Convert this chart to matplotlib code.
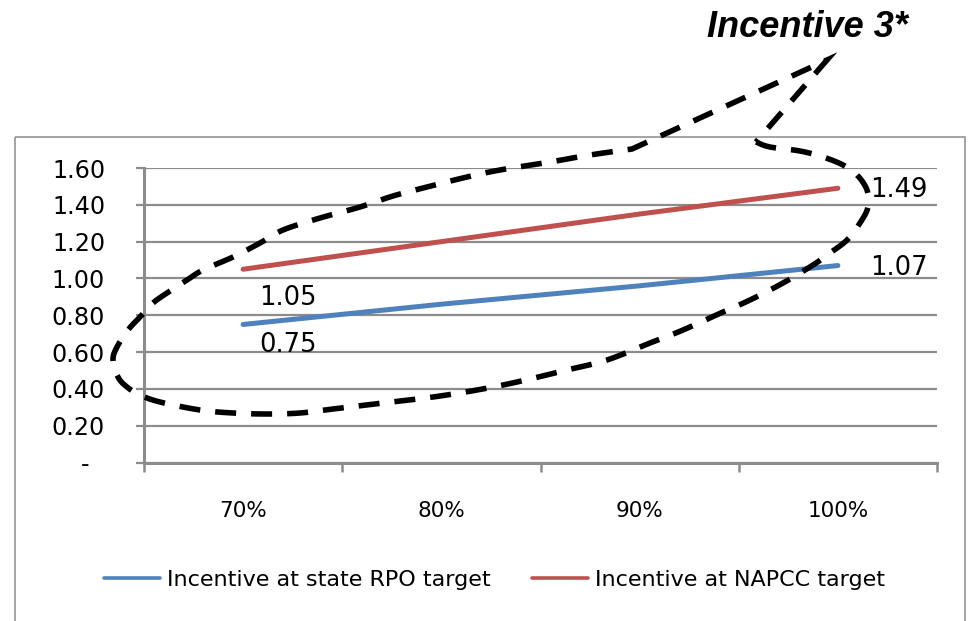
import numpy as np
import matplotlib
matplotlib.use("Agg")
import matplotlib.pyplot as plt
from matplotlib.patches import Rectangle
from matplotlib.collections import LineCollection
from matplotlib.transforms import Affine2D

# ---- data -------------------------------------------------------------
categories = ["70%", "80%", "90%", "100%"]
rpo_target = [0.75, 0.86, 0.96, 1.07]
napcc_target = [1.05, 1.20, 1.35, 1.49]
series_names = ["Incentive at state RPO target", "Incentive at NAPCC target"]
y_ticks = [0.0, 0.2, 0.4, 0.6, 0.8, 1.0, 1.2, 1.4, 1.6]
y_tick_labels = ["-  ", "0.20", "0.40", "0.60", "0.80", "1.00", "1.20", "1.40", "1.60"]
callout_title = "Incentive 3*"

# ---- style ------------------------------------------------------------
BLUE = "#4F81BD"
RED = "#C0504D"
GRID = "#8C8C8C"
plt.rcParams["font.family"] = ["DejaVu Sans"]

W, H = 969, 621
fig = plt.figure(figsize=(W / 100, H / 100), dpi=100)
fig.patch.set_facecolor("white")
# pixel coordinates (origin top-left) for the free-drawn decorations
px = Affine2D().scale(1 / W, -1 / H).translate(0, 1) + fig.transFigure

ax = fig.add_axes([144 / W, 1 - 462.5 / H, (937 - 144) / W, (462.5 - 168) / H])
ax.patch.set_visible(False)

x = np.arange(len(categories))
ax.plot(x, rpo_target, color=BLUE, lw=3.6, solid_capstyle="round",
        label=series_names[0], zorder=3)
ax.plot(x, napcc_target, color=RED, lw=3.6, solid_capstyle="round",
        label=series_names[1], zorder=3)

ax.set_xlim(-0.5, len(categories) - 0.5)
ax.set_ylim(0, 1.6)
ax.set_yticks(y_ticks)
ax.set_yticklabels(y_tick_labels)
ax.yaxis.grid(True, color=GRID, lw=1.6)
ax.set_axisbelow(True)

ax.set_xticks(x)
ax.set_xticklabels(categories)
ax.set_xticks(np.arange(-0.5, len(categories)), minor=True)
ax.tick_params(axis="x", which="major", length=0, pad=28, labelsize=15.5)
ax.tick_params(axis="x", which="minor", length=6.5, width=1.8, color=GRID,
               direction="out")
ax.tick_params(axis="y", length=6, width=1.6, color=GRID, pad=22,
               labelsize=17.2)

for s in ("top", "right"):
    ax.spines[s].set_visible(False)
for s in ("left", "bottom"):
    ax.spines[s].set_color(GRID)
    ax.spines[s].set_linewidth(2.2)

# ---- value labels -----------------------------------------------------
label_offsets = {
    (0, 0): (32, -14.6), (0, 3): (44, -1.5),
    (1, 0): (32, -20.5), (1, 3): (44, -1.0),
}
for si, series in enumerate([rpo_target, napcc_target]):
    for i in (0, len(series) - 1):
        ax.annotate(f"{series[i]:.2f}", xy=(x[i], series[i]),
                    xytext=label_offsets[(si, i)], textcoords="offset points",
                    ha="center", va="center", fontsize=18.5, zorder=4)

# ---- legend -----------------------------------------------------------
leg = fig.legend(loc="center", bbox_to_anchor=(494.5 / W, 1 - 580 / H),
                 ncol=2, frameon=False, fontsize=16, handlelength=2.5,
                 handletextpad=0.3, columnspacing=1.9)
for ln in leg.get_lines():
    ln.set_linewidth(2.6)

# ---- outer chart frame ------------------------------------------------
fig.add_artist(Rectangle((15.5, 136.5), 950, 600, transform=px, fill=False,
                         edgecolor=GRID, lw=1.1, clip_on=False, zorder=-1))


# ---- dashed callout bubble -------------------------------------------
def catmull_rom(pts, n=8):
    pts = np.asarray(pts, float)
    p = np.vstack([pts[0], pts, pts[-1]])
    out = []
    t = np.linspace(0, 1, n, endpoint=False)[:, None]
    for i in range(1, len(p) - 2):
        p0, p1, p2, p3 = p[i - 1], p[i], p[i + 1], p[i + 2]
        out.append(0.5 * (2 * p1 + (-p0 + p2) * t
                          + (2 * p0 - 5 * p1 + 4 * p2 - p3) * t ** 2
                          + (-p0 + 3 * p1 - 3 * p2 + p3) * t ** 3))
    out.append(pts[-1][None])
    return np.vstack(out)


def dash_pieces(path, dash, gap):
    """Cut a polyline (pixel units) into dash segments along its length."""
    d = np.diff(path, axis=0)
    s = np.concatenate([[0.0], np.cumsum(np.hypot(d[:, 0], d[:, 1]))])
    pieces = []
    start = 0.0
    while start < s[-1]:
        end = min(start + dash, s[-1])
        ss = np.concatenate([[start], s[(s > start) & (s < end)], [end]])
        pieces.append(np.column_stack([np.interp(ss, s, path[:, 0]),
                                       np.interp(ss, s, path[:, 1])]))
        start += dash + gap
    return pieces


bubble_outline = [
    (756, 142), (770, 147), (800, 151), (823, 157), (843, 165), (857, 175),
    (867, 190), (868, 207), (860, 223), (847, 240), (830, 253), (813, 265),
    (783, 283), (750, 300), (723, 312), (683, 330), (650, 343), (607, 360),
    (567, 370), (517, 382), (477, 390), (433, 397), (383, 403), (333, 409),
    (300, 413), (267, 414), (233, 413), (200, 410), (160, 402), (140, 395),
    (127, 387), (118, 377), (113, 360), (117, 347), (128, 330), (140, 317),
    (153, 303), (167, 293), (187, 280), (203, 270), (233, 257), (260, 243),
    (283, 230), (320, 218), (360, 207), (393, 196), (427, 187), (467, 177),
    (500, 170), (550, 162), (590, 155), (632, 149),
]
pointer = [(827, 60), (756, 142)]

curve = catmull_rom(bubble_outline)
outline = np.vstack([curve, np.asarray(pointer, float)])
fig.add_artist(LineCollection(dash_pieces(outline, 21.0, 15.0), transform=px,
                              colors="black", linewidths=4.0,
                              capstyle="butt", joinstyle="miter",
                              clip_on=False, zorder=10))

fig.text(807, 37, callout_title, transform=px, ha="center", va="baseline",
         fontsize=26, fontweight="bold", fontstyle="italic",
         family=["Liberation Sans", "DejaVu Sans"])

fig.savefig("out.png", dpi=100, facecolor="white")
